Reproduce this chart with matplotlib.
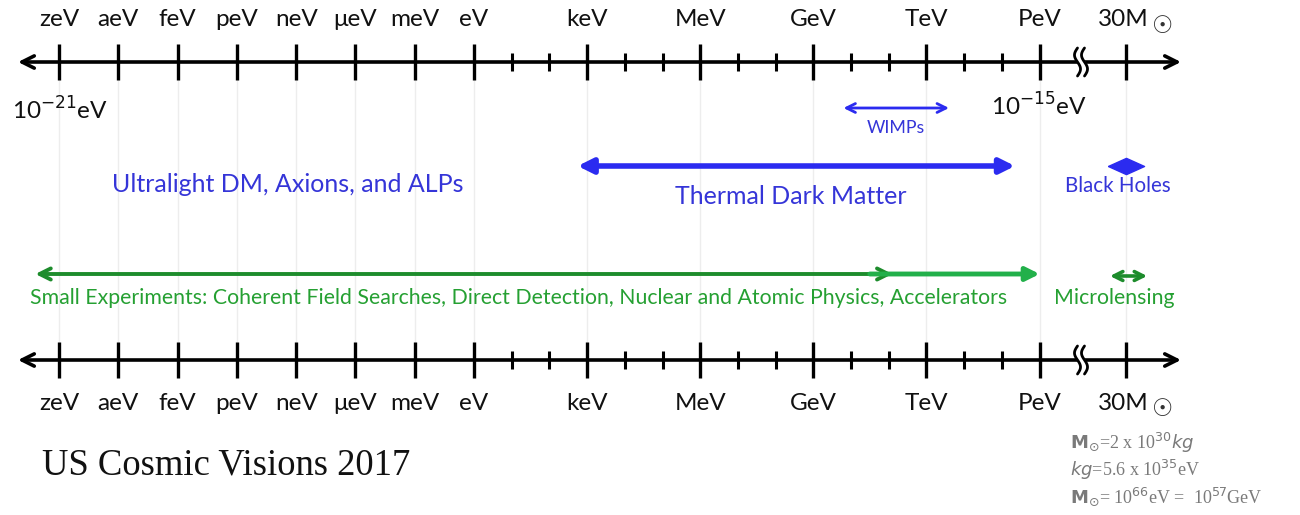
import numpy as np
import matplotlib
matplotlib.use('Agg')
from matplotlib import pyplot as plt
from matplotlib.path import Path

plt.rcParams['font.family'] = ['Lato', 'DejaVu Sans']
plt.rcParams['mathtext.fontset'] = 'dejavusans'

# energies as log10(E / eV)
major_labels = ['zeV', 'aeV', 'feV', 'peV', 'neV', 'μeV', 'meV', 'eV',
                'keV', 'MeV', 'GeV', 'TeV', 'PeV']
major_log = [-21, -18, -15, -12, -9, -6, -3, 0, 3, 6, 9, 12, 15]
minor_log = [1, 2, 4, 5, 7, 8, 10, 11, 13, 14]
solar_log = 67.5            # 30 solar masses ~ 3e67 eV

# ranges (log10 eV)
wimps = (9.8, 12.6)
thermal = (2.75, 14.35)
small_exp = (-22.2, 11.1)
accel = (10.5, 15.1)
microlens = (57.5, 80.0)
blackholes = solar_log

BLUE = '#2b2bf0'
BLUE_TXT = '#3535d8'
GREEN = '#1d8c2c'
GREEN2 = '#22b04a'
GREEN_TXT = '#25a032'


# broken energy axis: compressed below 1 eV, stretched eV..PeV, break to solar masses
def fwd(x):
    x = np.asarray(x, dtype=float)
    return np.where(x <= 0, 474 + 19.76 * x,
                    np.where(x <= 15, 474 + 37.7 * x, 1039.5 + 1.657 * (x - 15)))


def inv(p):
    p = np.asarray(p, dtype=float)
    return np.where(p <= 474, (p - 474) / 19.76,
                    np.where(p <= 1039.5, (p - 474) / 37.7, 15 + (p - 1039.5) / 1.657))


fig = plt.figure(figsize=(13, 5.15), dpi=100)
ax = fig.add_axes([0, 0, 1, 1])
ax.set_xscale('function', functions=(fwd, inv))
ax.set_xlim(float(inv(0)), float(inv(1300)))
ax.set_ylim(515, 0)
ax.axis('off')

ticks_all = major_log + [solar_log]

# faint guide lines
for t in ticks_all:
    ax.plot([t, t], [80, 342], color='#ededed', lw=1, zorder=0)


def energy_axis(y, label_y):
    ax.annotate('', xy=(float(inv(18)), y), xytext=(float(inv(1181)), y),
                arrowprops=dict(arrowstyle='<->', color='black', lw=2.6,
                                mutation_scale=22, shrinkA=0, shrinkB=0))
    for t in ticks_all:
        ax.plot([t, t], [y - 18, y + 18], color='black', lw=2.4, solid_capstyle='butt')
    for t in minor_log:
        ax.plot([t, t], [y - 9, y + 9], color='black', lw=2.2, solid_capstyle='butt')
    for t, lab in zip(major_log, major_labels):
        ax.text(t, label_y, lab, ha='center', va='center', fontsize=17.5, color='#111111')
    ax.annotate('30M', xy=(solar_log, label_y), xytext=(-2.5, 0), textcoords='offset points',
                ha='center', va='center', fontsize=17.5, color='#111111')
    ax.annotate('☉', xy=(solar_log, label_y), xytext=(26, -4), textcoords='offset points',
                ha='center', va='center', fontsize=17, color='#333333', family='DejaVu Sans')
    # axis break: two wavy strokes with the line cut between them
    s = np.linspace(-1, 1, 40)
    for dx in (-3.5, 3.5):
        px = 1081 + dx + 3 * np.sin(np.pi * s)
        ax.plot(inv(px), y + 14 * s, color='black', lw=2, solid_capstyle='round', zorder=4)
    ax.fill_betweenx(y + 14 * s * 0.35, inv(1081 - 3.5 + 3 * np.sin(np.pi * s * 0.35)),
                     inv(1081 + 3.5 + 3 * np.sin(np.pi * s * 0.35)), color='white', zorder=3)


energy_axis(62, 20)
energy_axis(360, 403)

ax.text(float(inv(12)), 110, '10$^{-21}$eV', ha='left', va='center', fontsize=17.5,
        color='#111111')
ax.text(15, 106, '10$^{-15}$eV', ha='center', va='center', fontsize=17.5, color='#111111')

# WIMPs
ax.annotate('', xy=(wimps[0], 108), xytext=(wimps[1], 108),
            arrowprops=dict(arrowstyle='<->', color=BLUE, lw=2, mutation_scale=16,
                            shrinkA=0, shrinkB=0))
ax.text(np.mean(wimps), 128, 'WIMPs', ha='center', va='center', fontsize=12.8, color=BLUE_TXT)

# thermal DM
ax.annotate('', xy=(thermal[0], 166), xytext=(thermal[1], 166),
            arrowprops=dict(arrowstyle='<|-|>', color=BLUE, lw=4, mutation_scale=22,
                            shrinkA=0, shrinkB=0))
ax.text(8.4, 197, 'Thermal Dark Matter', ha='center', va='center', fontsize=18,
        color=BLUE_TXT)
ax.text(float(inv(288)), 185, 'Ultralight DM, Axions, and ALPs', ha='center', va='center',
        fontsize=18, color=BLUE_TXT)

# black holes
diamond = Path([(-1, 0), (0, 0.45), (1, 0), (0, -0.45), (-1, 0)])
ax.plot([blackholes], [166], marker=diamond, markersize=26, color=BLUE, ls='none')
ax.text(float(inv(1118)), 186, 'Black Holes', ha='center', va='center', fontsize=14.8,
        color=BLUE_TXT)

# small experiments
ax.annotate('', xy=(small_exp[0], 274), xytext=(small_exp[1], 274),
            arrowprops=dict(arrowstyle='<->', color=GREEN, lw=2.8, mutation_scale=20,
                            shrinkA=0, shrinkB=0))
ax.annotate('', xy=(accel[1], 274), xytext=(accel[0], 274),
            arrowprops=dict(arrowstyle='-|>', color=GREEN2, lw=3.5, mutation_scale=20,
                            shrinkA=0, shrinkB=0))
ax.text(float(inv(30)), 298, 'Small Experiments: Coherent Field Searches, Direct Detection, '
        'Nuclear and Atomic Physics, Accelerators', ha='left', va='center',
        fontsize=15.3, color=GREEN_TXT)
ax.annotate('', xy=(microlens[0], 276), xytext=(microlens[1], 276),
            arrowprops=dict(arrowstyle='<->', color=GREEN, lw=2.6, mutation_scale=16,
                            shrinkA=0, shrinkB=0))
ax.text(float(inv(1114)), 298, 'Microlensing', ha='center', va='center', fontsize=15.3,
        color=GREEN_TXT)

ax.text(float(inv(42)), 465, 'US Cosmic Visions 2017', ha='left', va='center',
        fontsize=26.4, family='Liberation Serif', color='#111111')

# unit conversions
conv = [r'$\mathbf{M}_{\odot}$=2 x 10$^{30}$$\it{kg}$',
        r'$\it{kg}$=5.6 x 10$^{35}$eV',
        r'$\mathbf{M}_{\odot}$= 10$^{66}$eV =  10$^{57}$GeV']
for i, s in enumerate(conv):
    ax.text(float(inv(1070)), 443 + 27 * i, s, ha='left', va='center', fontsize=13,
            family='Liberation Serif', color='#7a7a7a')

fig.savefig('out.png', dpi=100)
